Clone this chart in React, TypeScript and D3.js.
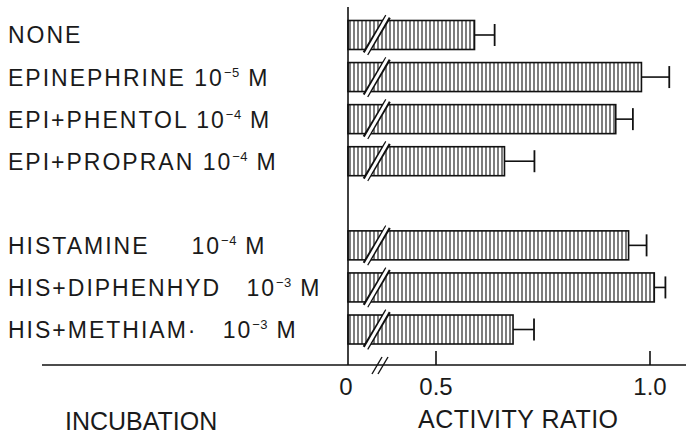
import React from "react";
import * as d3 from "d3";

const categories = ["NONE", "EPINEPHRINE", "EPI+PHENTOL", "EPI+PROPRAN", "HISTAMINE", "HIS+DIPHENHYD", "HIS+METHIAM·"];
const concGaps = ["", " ", " ", " ", "     ", "   ", "   "];
const exponents = ["", "−5", "−4", "−4", "−4", "−3", "−3"];
const groups = ["EPI", "EPI", "EPI", "EPI", "HIS", "HIS", "HIS"];
const activity = [0.59, 0.98, 0.92, 0.66, 0.95, 1.01, 0.68];
const errors = [0.047, 0.065, 0.04, 0.07, 0.042, 0.026, 0.049];
const xTicks = [0, 0.5, 1.0];
const xTickLabels = ["0", "0.5", "1.0"];

const W = 686;
const H = 435;
const FONT = "'Liberation Sans', Arial, Helvetica, sans-serif";

export default function App() {
  // band domain with a blank slot between the two groups
  const domain: string[] = [];
  categories.forEach((c, i) => {
    if (i > 0 && groups[i] !== groups[i - 1]) domain.push("__gap__");
    domain.push(c);
  });
  const y = d3.scaleBand<string>().domain(domain).range([20.5, 344]).paddingInner(0.311).paddingOuter(0);
  // broken axis: 0 at the origin, linear section from 0.5 to 1.0
  const x = d3.scaleLinear().domain([0, 0.5, 1.0]).range([348, 436, 650]);
  const bw = y.bandwidth();
  const x0 = x(0);
  const axisY = 365;

  return (
    <svg width={W} height={H} style={{ position: "absolute", left: 0, top: 0, background: "#fff" }} fontFamily={FONT}>
      <defs>
        <pattern id="hatch" patternUnits="userSpaceOnUse" width={4} height={8}>
          <line x1={2} y1={0} x2={2} y2={8} stroke="#111" strokeWidth={1.1} />
        </pattern>
      </defs>
      {categories.map((c, i) => {
        const yy = y(c)!;
        const cy = yy + bw / 2;
        const xe = x(activity[i]);
        const xErr = x(activity[i] + errors[i]);
        return (
          <g key={c}>
            <rect x={x0} y={yy} width={xe - x0} height={bw} fill="url(#hatch)" stroke="#111" strokeWidth={1.6} />
            <line x1={x0 + 17.5} y1={yy + bw + 4} x2={x0 + 40} y2={yy - 4} stroke="#111" strokeWidth={6.4} />
            <line x1={x0 + 17.5} y1={yy + bw + 5} x2={x0 + 40} y2={yy - 5} stroke="#fff" strokeWidth={3} />
            <line x1={xe} y1={cy} x2={xErr} y2={cy} stroke="#111" strokeWidth={1.6} />
            <line x1={xErr} y1={cy - 11} x2={xErr} y2={cy + 11} stroke="#111" strokeWidth={1.8} />
            <text x={8} y={cy + 8.5} fontSize={23} letterSpacing={2} fill="#1a1a1a" style={{ whiteSpace: "pre" }}>
              {c}
              {exponents[i] ? (
                <>
                  {concGaps[i] + "10"}
                  <tspan fontSize={13} dy={-9} letterSpacing={0.5}>{exponents[i]}</tspan>
                  <tspan dy={9}>{" M"}</tspan>
                </>
              ) : null}
            </text>
          </g>
        );
      })}
      {/* axes */}
      <line x1={x0} y1={7} x2={x0} y2={axisY} stroke="#111" strokeWidth={1.6} />
      <line x1={42} y1={axisY} x2={W} y2={axisY} stroke="#111" strokeWidth={1.6} />
      <line x1={x0 + 24} y1={axisY + 9} x2={x0 + 34} y2={axisY - 8} stroke="#111" strokeWidth={1.4} />
      <line x1={x0 + 30} y1={axisY + 9} x2={x0 + 40} y2={axisY - 8} stroke="#111" strokeWidth={1.4} />
      {xTicks.map((t, i) => (
        <g key={t}>
          {t > 0 ? <line x1={x(t)} y1={axisY} x2={x(t)} y2={axisY - 14} stroke="#111" strokeWidth={1.6} /> : null}
          <text x={t === 0 ? x(t) - 2 : x(t)} y={395} textAnchor="middle" fontSize={24} fill="#1a1a1a">
            {xTickLabels[i]}
          </text>
        </g>
      ))}
      <text x={65} y={430} fontSize={25} fill="#1a1a1a">INCUBATION</text>
      <text x={418} y={428} fontSize={25} letterSpacing={0.5} fill="#1a1a1a">ACTIVITY RATIO</text>
    </svg>
  );
}
